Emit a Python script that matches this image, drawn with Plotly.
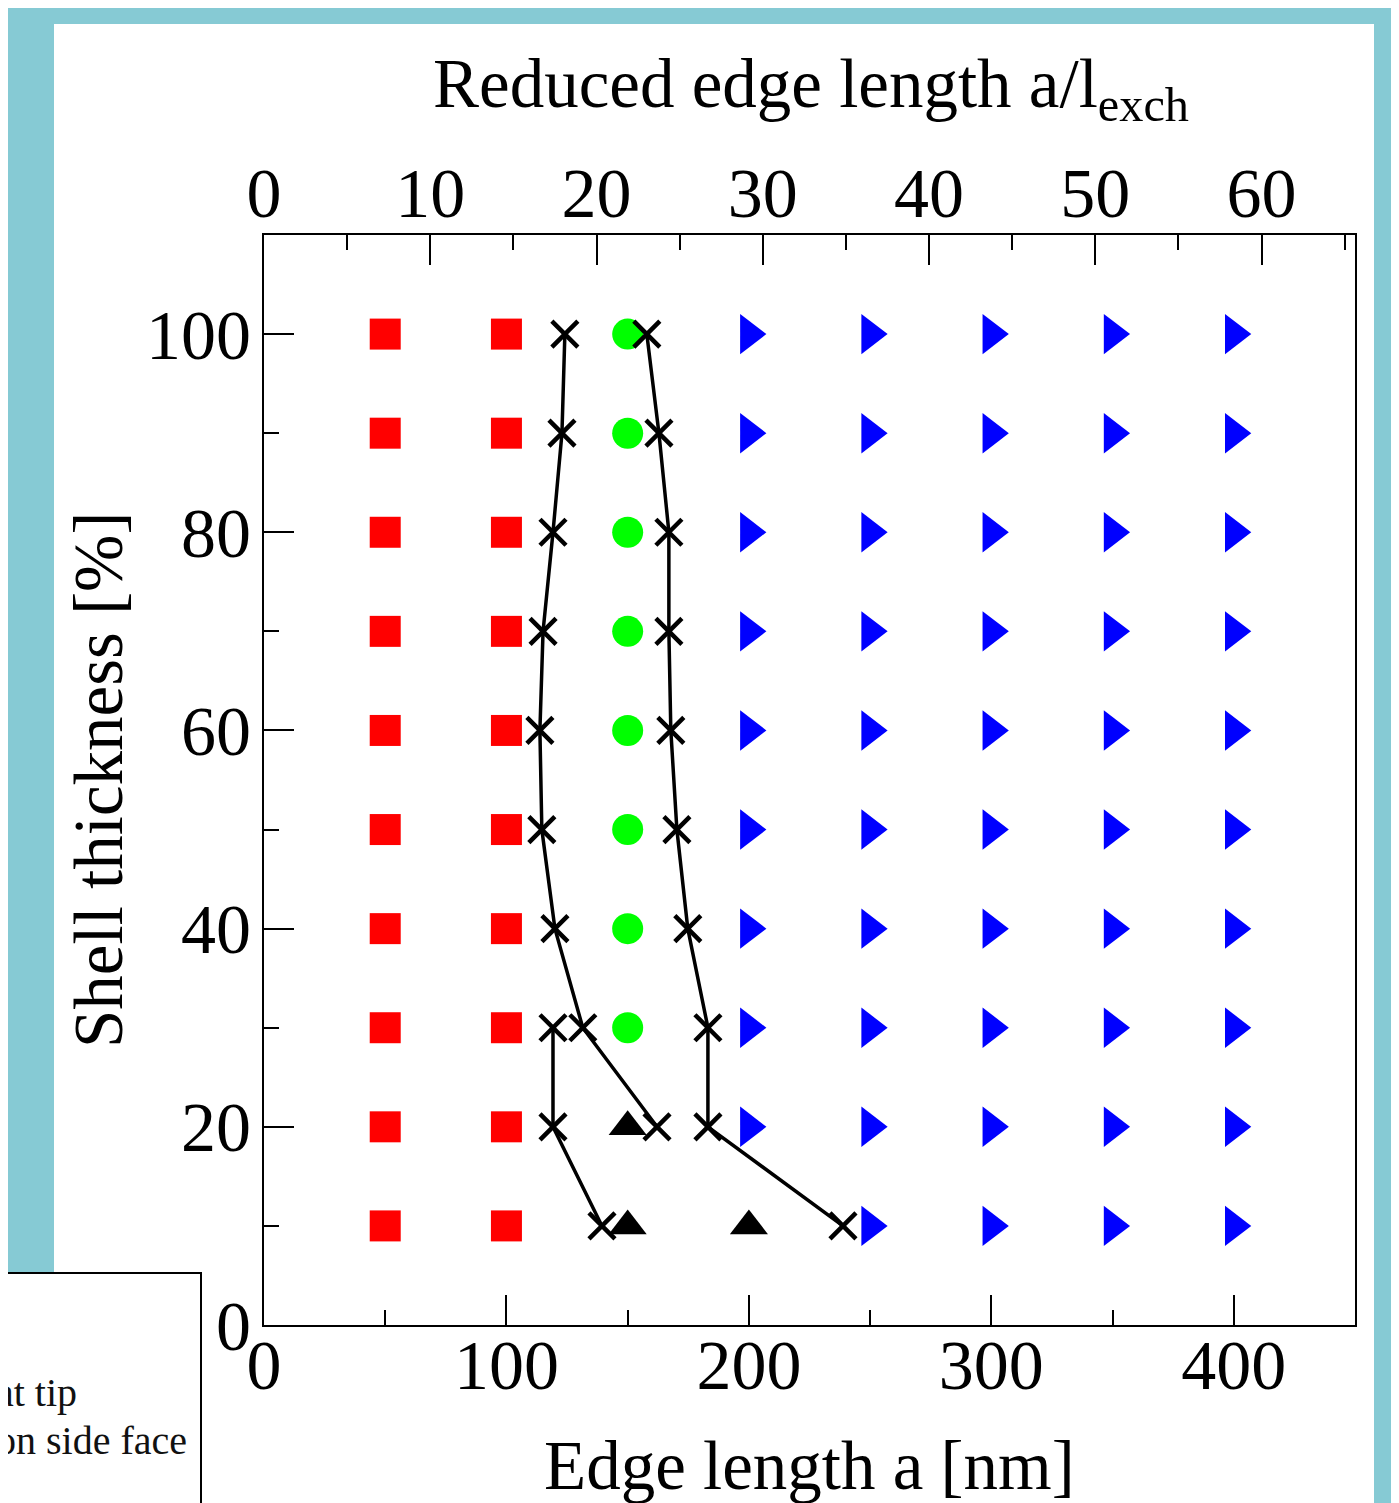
import plotly.graph_objects as go

# ---------------- data ----------------
# red squares (edge length nm, shell thickness %)
sq_x = [50]*10 + [100]*10
sq_y = [10, 20, 30, 40, 50, 60, 70, 80, 90, 100]*2

# green circles
circ_x = [150, 150, 150, 150, 150, 150, 150, 150]
circ_y = [30, 40, 50, 60, 70, 80, 90, 100]

# black up-triangles
tri_x = [150, 150, 200]
tri_y = [20, 10, 10]

# blue right-triangles
rt_x = [200]*9 + [250]*10 + [300]*10 + [350]*10 + [400]*10
rt_y = [20, 30, 40, 50, 60, 70, 80, 90, 100] + [10, 20, 30, 40, 50, 60, 70, 80, 90, 100]*4

# boundary lines (x markers)
left_a_x = [124.1, 122.9, 119.2, 115.1, 113.8, 114.6, 120.0, 131.5, 162.1]
left_a_y = [100, 90, 80, 70, 60, 50, 40, 30, 20]
left_b_x = [119.2, 119.2, 139.4]
left_b_y = [30, 20, 10]
right_x = [157.9, 162.9, 167.0, 167.0, 167.8, 170.3, 174.8, 183.1, 183.1, 238.8]
right_y = [100, 90, 80, 70, 60, 50, 40, 30, 20, 10]

legend_texts = ["at tip", "on side face"]

x_range = [0, 450]
y_range = [0, 110]
l_exch = 6.858  # nm
x2_range = [0, 450 / l_exch]

TEAL = "#86CAD4"
FONT = "Liberation Serif"

# ---------------- figure ----------------
fig = go.Figure()

fig.add_trace(go.Scatter(x=sq_x, y=sq_y, mode="markers",
                         marker=dict(symbol="square", size=31, color="#ff0000"),
                         showlegend=False, hoverinfo="skip"))
fig.add_trace(go.Scatter(x=circ_x, y=circ_y, mode="markers",
                         marker=dict(symbol="circle", size=31, color="#00ff00"),
                         showlegend=False, hoverinfo="skip"))
fig.add_trace(go.Scatter(x=tri_x, y=tri_y, mode="markers",
                         marker=dict(symbol="triangle-up", size=33, color="#000000"),
                         showlegend=False, hoverinfo="skip"))
fig.add_trace(go.Scatter(x=rt_x, y=rt_y, mode="markers",
                         marker=dict(symbol="triangle-right", size=35, color="#0000ff"),
                         showlegend=False, hoverinfo="skip"))

for xs, ys in [(left_a_x, left_a_y), (left_b_x, left_b_y), (right_x, right_y)]:
    fig.add_trace(go.Scatter(x=xs, y=ys, mode="lines+markers",
                             line=dict(color="black", width=3.5),
                             marker=dict(symbol="x-thin-open", size=26,
                                         line=dict(color="black", width=4.5)),
                             showlegend=False, hoverinfo="skip"))

# dummy trace for top axis
fig.add_trace(go.Scatter(x=[0], y=[0], xaxis="x2", yaxis="y", mode="markers",
                         marker=dict(opacity=0), showlegend=False, hoverinfo="skip"))

axis_common = dict(
    showline=True, linewidth=2, linecolor="black",
    ticks="inside", ticklen=30, tickwidth=2, tickcolor="black",
    showgrid=False, zeroline=False,
    tickfont=dict(family=FONT, size=70, color="black"),
)

# page body has an 8px margin: the figure is 8px smaller and starts at (8,8)
fig.update_layout(
    width=1391, height=1495, autosize=False,
    margin=dict(l=256, r=44, t=227, b=178, pad=0),
    paper_bgcolor=TEAL, plot_bgcolor="white",
    xaxis=dict(range=x_range, tick0=0, dtick=100, mirror=False,
               ticklabelstandoff=-22,
               minor=dict(dtick=50, ticklen=15, tickwidth=2, tickcolor="black",
                          ticks="inside", showgrid=False),
               **axis_common),
    xaxis2=dict(range=x2_range, tick0=0, dtick=10, overlaying="x", side="top",
                anchor="y", ticklabelstandoff=-12,
                minor=dict(dtick=5, ticklen=15, tickwidth=2, tickcolor="black",
                           ticks="inside", showgrid=False),
                **axis_common),
    yaxis=dict(range=y_range, tick0=0, dtick=20, mirror=True,
               ticklabelstandoff=-3,
               minor=dict(dtick=10, ticklen=15, tickwidth=2, tickcolor="black",
                          ticks="inside", showgrid=False),
               **axis_common),
)

PW, PH = 1091.0, 1090.0
def px(x):
    return (x - 264) / PW
def py(y):
    return (1325 - y) / PH

# white panel
fig.add_shape(type="rect", xref="paper", yref="paper",
              x0=px(54), x1=px(1374), y0=py(1520), y1=py(24),
              fillcolor="white", line=dict(width=0), layer="below")
# partially visible legend box
fig.add_shape(type="rect", xref="paper", yref="paper",
              x0=px(-20), x1=px(201), y0=py(1530), y1=py(1273),
              fillcolor="white", line=dict(color="black", width=2), layer="above")

# legend texts (cut off at left edge)
for txt, xr, yc in [(legend_texts[0], 79, 1393), (legend_texts[1], 189, 1441)]:
    fig.add_annotation(text=txt, xref="paper", yref="paper", x=px(xr), y=py(yc),
                       xanchor="right", yanchor="middle", showarrow=False,
                       font=dict(family=FONT, size=40, color="#111111"))

# axis titles
fig.add_annotation(text="Edge length a [nm]", xref="paper", yref="paper",
                   x=0.5, y=py(1466), xanchor="center", yanchor="middle",
                   showarrow=False, font=dict(family=FONT, size=69, color="black"))
fig.add_annotation(text="Reduced edge length a/l<sub>exch</sub>", xref="paper", yref="paper",
                   x=px(811), y=py(88), xanchor="center", yanchor="middle",
                   showarrow=False, font=dict(family=FONT, size=69, color="black"))
fig.add_annotation(text="Shell thickness [%]", xref="paper", yref="paper",
                   x=px(99), y=0.5, xanchor="center", yanchor="middle", textangle=-90,
                   showarrow=False, font=dict(family=FONT, size=69, color="black"))

fig.write_html("out.html")
